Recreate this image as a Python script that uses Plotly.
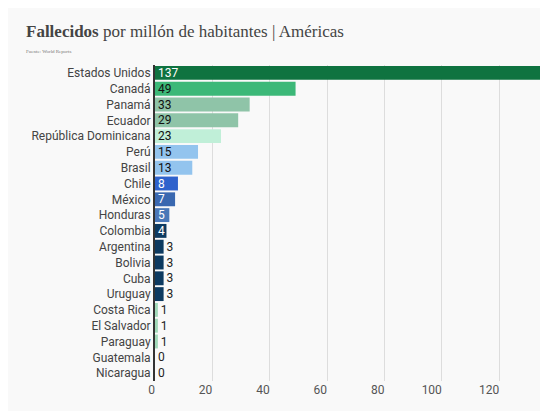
import plotly.graph_objects as go

countries = ["Estados Unidos", "Canadá", "Panamá", "Ecuador", "República Dominicana",
             "Perú", "Brasil", "Chile", "México", "Honduras", "Colombia", "Argentina",
             "Bolivia", "Cuba", "Uruguay", "Costa Rica", "El Salvador", "Paraguay",
             "Guatemala", "Nicaragua"]
deaths = [137, 49, 33, 29, 23, 15, 13, 8, 7, 5, 4, 3, 3, 3, 3, 1, 1, 1, 0, 0]
colors = ["#0f7340", "#3cb878", "#8fc4a8", "#8fc4a8", "#c0efd8",
          "#93c4ee", "#93c4ee", "#2f62cc", "#3a68b0", "#4a78b8", "#0d3a60", "#0d3a60",
          "#0d3a60", "#0d3a60", "#0d3a60", "#a0d8b8", "#a0d8b8", "#a0d8b8",
          "#a0d8b8", "#a0d8b8"]
text_colors = ["white", "#111", "#111", "#111", "#111", "#111", "#111", "white",
               "white", "white", "white", "#222", "#222", "#222", "#222", "#222",
               "#222", "#222", "#222", "#222"]
positions = ["inside" if v >= 4 else "outside" for v in deaths]

fig = go.Figure(go.Bar(
    x=deaths, y=countries, orientation="h",
    marker=dict(color=colors, line=dict(width=0)),
    text=deaths, textposition=positions, insidetextanchor="start",
    textangle=0, constraintext="none",
    textfont=dict(family="Roboto", size=12, color=text_colors),
    cliponaxis=False, width=0.88,
))

fig.update_layout(
    width=548, height=411,
    paper_bgcolor="#f9f9f9", plot_bgcolor="#f9f9f9",
    margin=dict(l=147, r=8, t=57, b=38),
    font=dict(family="Roboto", size=12, color="#444"),
    showlegend=False,
    annotations=[
        dict(text="<b>Fallecidos</b> por millón de habitantes | Américas",
             x=(16 - 147) / 393, y=1 + (57 - 24) / 316, xref="paper", yref="paper",
             showarrow=False, xanchor="left", yanchor="middle",
             font=dict(family="Liberation Serif", size=17, color="#444")),
        dict(text="Fuente: World Reports",
             x=(16 - 147) / 393, y=1 + (57 - 43) / 316, xref="paper", yref="paper",
             showarrow=False, xanchor="left", yanchor="middle",
             font=dict(family="Liberation Serif", size=5, color="#777")),
    ],
)

fig.update_xaxes(range=[0, 137], tickvals=[0, 20, 40, 60, 80, 100, 120],
                 ticklabelposition="outside left", showgrid=True,
                 gridcolor="#dddddd", zeroline=False, showline=False,
                 automargin=False, ticklen=0,
                 tickfont=dict(size=12, color="#555"))
fig.update_yaxes(autorange="reversed", showline=True, linecolor="#333",
                 linewidth=2, ticks="", automargin=False,
                 tickfont=dict(size=12, color="#444"))

fig.write_html("out.html")
